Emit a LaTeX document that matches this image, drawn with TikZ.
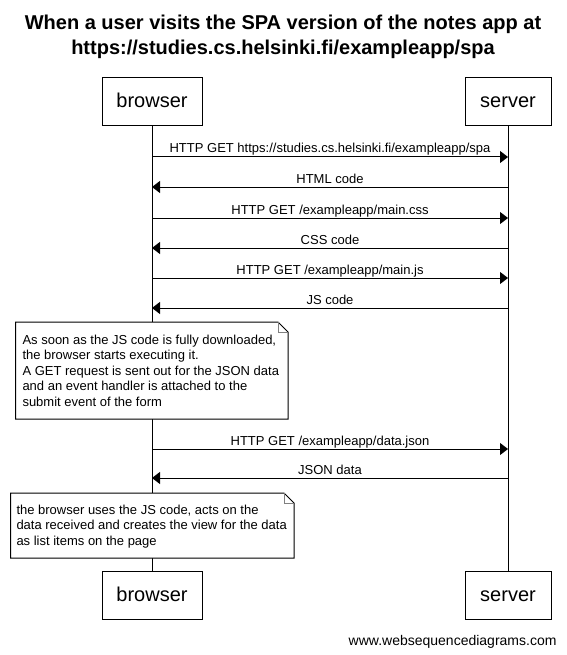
\documentclass[tikz,border=0pt]{standalone}
\usepackage{fontspec}
\setmainfont{Liberation Sans}
\usetikzlibrary{arrows.meta}

\begin{document}
\begin{tikzpicture}[x=1pt,y=-1pt,line width=1pt,
        actor/.style={draw,fill=white,minimum height=48pt,inner sep=0pt,text height=14pt,text depth=2pt,font=\fontsize{20}{24}\selectfont},
        msg/.style={-{Triangle[length=8pt,width=12pt]}},
        msglabel/.style={anchor=base,inner sep=0pt,font=\fontsize{13}{15.5}\selectfont},
        notebox/.style={draw,fill=white},
        notefold/.style={draw=gray,line width=0.6pt},
        notetext/.style={anchor=north west,inner sep=0pt,align=left,font=\fontsize{13}{15.5}\selectfont}]
        \useasboundingbox (0,0) rectangle (566,655);
        % title
        \node[anchor=north,inner sep=0pt,align=center,font=\fontsize{20}{25}\selectfont\bfseries] (title) at (283,14.5)
            {When a user visits the SPA version of the notes app at\\https://studies.cs.helsinki.fi/exampleapp/spa};
        % actors
        \node[actor,minimum width=100pt] (btop) at (152,102) {browser};
        \node[actor,minimum width=86pt] (stop) at (508,102) {server};
        \node[actor,minimum width=100pt] (bbot) at (152,595.5) {browser};
        \node[actor,minimum width=86pt] (sbot) at (508,595.5) {server};
        \draw (btop) -- (bbot);
        \draw (stop) -- (sbot);
        % requests
        \foreach \y/\txt [count=\i] in {157/{HTTP GET https://studies.cs.helsinki.fi/exampleapp/spa},
                218/{HTTP GET /exampleapp/main.css}, 278/{HTTP GET /exampleapp/main.js},
                449/{HTTP GET /exampleapp/data.json}} {
            \coordinate (rqb\i) at (152,\y);
            \coordinate (rqs\i) at (508,\y);
            \draw[msg] (rqb\i) -- (rqs\i);
            \node[msglabel] (rql\i) at (330,\y-4) {\txt};
        }
        % responses
        \foreach \y/\txt [count=\i] in {187/HTML code, 248/CSS code, 308/JS code, 478/JSON data} {
            \coordinate (rss\i) at (508,\y);
            \coordinate (rsb\i) at (152,\y);
            \draw[msg] (rss\i) -- (rsb\i);
            \node[msglabel] (rsl\i) at (330,\y-4) {\txt};
        }
        % notes
        \draw[notebox] (15.5,322) -- (278,322) -- (288,332) -- (288,419) -- (15.5,419) -- cycle;
        \draw[notefold] (278,322) -- (278,332) -- (288,332);
        \node[notetext] (note1) at (22,334.5) {As soon as the JS code is fully downloaded,\\the browser starts executing it.\\A GET request is sent out for the JSON data\\and an event handler is attached to the\\submit event of the form};
        \draw[notebox] (10.5,493) -- (284,493) -- (294,503) -- (294,558) -- (10.5,558) -- cycle;
        \draw[notefold] (284,493) -- (284,503) -- (294,503);
        \node[notetext] (note2) at (16,504.5) {the browser uses the JS code, acts on the\\data received and creates the view for the data\\as list items on the page};
        % credit
        \node[anchor=base east,inner sep=0pt,font=\fontsize{14}{16}\selectfont] (credit) at (557,645) {www.websequencediagrams.com};
    \end{tikzpicture}
\end{document}
